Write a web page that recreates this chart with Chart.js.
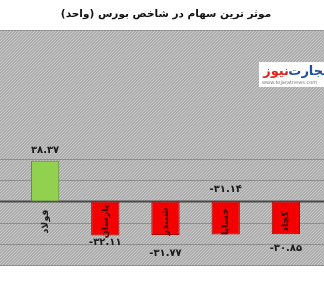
<!DOCTYPE html>
<html>
<head>
<meta charset="utf-8">
<script src="https://cdn.jsdelivr.net/npm/chart.js@4"></script>
<style>
html,body{margin:0;padding:0;background:#fff;}
canvas{display:block;}
</style>
</head>
<body>
<canvas id="c" width="324" height="285"></canvas>
<script>
const title = 'موثر ترین سهام در شاخص بورس (واحد)';
const categories = ['فولاد', 'پارسان', 'شبندر', 'خساپا', 'کچاد'];
const values = [38.37, -32.11, -31.77, -31.14, -30.85];
const gridValues = [40, 20, 0, -20, -40, -60];

const faDigits = '۰۱۲۳۴۵۶۷۸۹';
function toFa(v) {
  return v.toFixed(2).replace(/[0-9]/g, d => faDigits[+d]);
}

function makePattern(ctx) {
  const t = document.createElement('canvas');
  t.width = 3; t.height = 3;
  const g = t.getContext('2d');
  g.fillStyle = '#adadad';
  g.fillRect(0, 0, 3, 3);
  g.strokeStyle = '#c9c9c9';
  g.lineWidth = 1;
  g.beginPath();
  g.moveTo(-1, 4); g.lineTo(4, -1);
  g.moveTo(-1, 1); g.lineTo(1, -1);
  g.moveTo(2, 4); g.lineTo(4, 2);
  g.stroke();
  return ctx.createPattern(t, 'repeat');
}

const deco = {
  id: 'deco',
  beforeDraw(chart) {
    const ctx = chart.ctx, ca = chart.chartArea, W = chart.width;
    ctx.save();
    ctx.fillStyle = '#fff';
    ctx.fillRect(0, 0, W, chart.height);
    ctx.fillStyle = makePattern(ctx);
    ctx.fillRect(0, ca.top, W, ca.bottom - ca.top + 1);
    ctx.strokeStyle = '#959595';
    ctx.lineWidth = 1;
    ctx.beginPath();
    ctx.moveTo(0, ca.top + 0.5); ctx.lineTo(W, ca.top + 0.5);
    ctx.stroke();
    ctx.fillStyle = '#111';
    ctx.font = 'bold 10.5px "DejaVu Sans"';
    ctx.textAlign = 'center';
    ctx.textBaseline = 'middle';
    ctx.direction = 'rtl';
    ctx.fillText(title, 166, 14);
    ctx.direction = 'ltr';
    ctx.fillStyle = '#ffffff';
    ctx.fillRect(259, 62, 70, 25);
    ctx.font = 'bold 13px "DejaVu Sans"';
    ctx.fillStyle = '#e3261f';
    ctx.direction = 'rtl';
    ctx.textAlign = 'right';
    ctx.fillText('نیوز', 289, 72);
    ctx.fillStyle = '#1d4f9c';
    ctx.fillText('تجارت', 328, 72);
    ctx.direction = 'ltr';
    ctx.textAlign = 'left';
    ctx.fillStyle = '#777';
    ctx.font = '5px "DejaVu Sans"';
    ctx.fillText('www.tejaratnews.com', 262, 83);
    ctx.restore();
  },
  beforeDatasetsDraw(chart) {
    const ctx = chart.ctx, y = chart.scales.y, W = chart.width;
    ctx.save();
    gridValues.forEach(v => {
      const py = Math.round(y.getPixelForValue(v)) + 0.5;
      ctx.beginPath();
      ctx.strokeStyle = v === 0 ? '#4a4a4a' : '#8e8e8e';
      ctx.lineWidth = v === 0 ? 2 : 1;
      ctx.moveTo(0, py); ctx.lineTo(W, py);
      ctx.stroke();
    });
    ctx.restore();
  },
  afterDatasetsDraw(chart, args, opts) {
    const ctx = chart.ctx, y = chart.scales.y;
    const meta = chart.getDatasetMeta(0);
    const zero = y.getPixelForValue(0);
    ctx.save();
    meta.data.forEach((bar, i) => {
      ctx.font = 'bold 10px "DejaVu Sans"';
      ctx.fillStyle = '#1a1a1a';
      ctx.textAlign = 'center';
      ctx.textBaseline = 'middle';
      ctx.direction = 'ltr';
      const a = opts.valueAnchor[i];
      const base = a === 'base' ? zero : bar.y;
      ctx.fillText((values[i] < 0 ? '-' : '') + toFa(Math.abs(values[i])), bar.x, base + opts.valueDy[i]);
      ctx.save();
      ctx.translate(bar.x, zero + opts.catDy);
      ctx.rotate(-Math.PI / 2);
      ctx.direction = 'rtl';
      ctx.font = 'bold 9.5px "DejaVu Sans"';
      ctx.fillStyle = values[i] < 0 ? '#3a0000' : '#1a1a1a';
      ctx.fillText(categories[i], 0, 0);
      ctx.restore();
    });
    ctx.restore();
  }
};

new Chart(document.getElementById('c'), {
  type: 'bar',
  data: {
    labels: categories,
    datasets: [{
      data: values,
      backgroundColor: values.map(v => v >= 0 ? '#92d14f' : '#f40000'),
      borderColor: values.map(v => v >= 0 ? '#5d8f2a' : '#a80000'),
      borderWidth: 1,
      borderSkipped: false,
      barPercentage: 0.47,
      categoryPercentage: 1
    }]
  },
  options: {
    responsive: false,
    devicePixelRatio: 1,
    animation: false,
    layout: { padding: { top: 30, bottom: 20, left: 15, right: 8 } },
    scales: {
      x: { display: false },
      y: { display: false, min: -60, max: 162 }
    },
    plugins: {
      legend: { display: false },
      tooltip: { enabled: false },
      deco: {
        valueAnchor: ['end', 'end', 'end', 'base', 'end'],
        valueDy: [-10, 7, 18, -12, 14],
        catDy: 20
      }
    }
  },
  plugins: [deco]
});
</script>
</body>
</html>
